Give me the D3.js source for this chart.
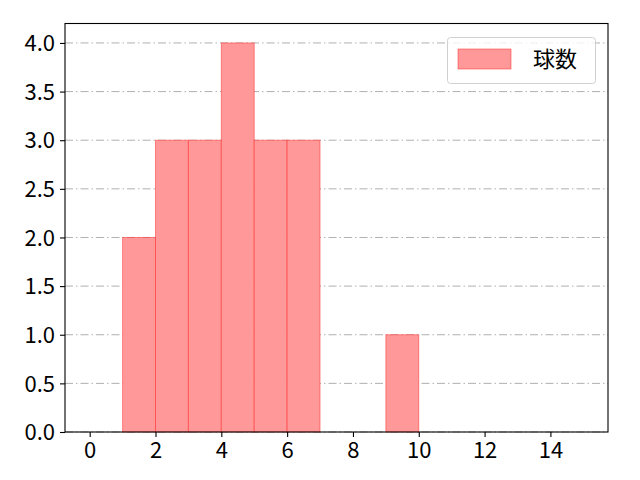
<!DOCTYPE html>
<html><head><meta charset="utf-8">
<script src="https://cdn.jsdelivr.net/npm/d3@7"></script>
<style>body{margin:0;background:#fff}svg{display:block}</style>
</head><body>
<script>
const binStarts = [1, 2, 3, 4, 5, 6, 9];
const binEnds   = [2, 3, 4, 5, 6, 7, 10];
const counts    = [2, 3, 3, 4, 3, 3, 1];
const xTicks = [0, 2, 4, 6, 8, 10, 12, 14];
const yTicks = [0, 0.5, 1, 1.5, 2, 2.5, 3, 3.5, 4];
const seriesName = "球数";

const W = 640, H = 480;
const L = 65, R = 608, T = 23.5, B = 432;
const font = "'Noto Sans CJK JP', 'DejaVu Sans', sans-serif";
const fs = 22;

const svg = d3.select("body").append("svg").attr("width", W).attr("height", H);
const x = d3.scaleLinear().domain([-0.75, 15.75]).range([L, R]);
const y = d3.scaleLinear().domain([0, 4.2]).range([B, T]);

// grid
svg.append("g").selectAll("line").data(yTicks).join("line")
  .attr("x1", L).attr("x2", R)
  .attr("y1", d => y(d)).attr("y2", d => y(d))
  .attr("stroke", "#b0b0b0").attr("stroke-width", 1)
  .attr("stroke-dasharray", "8,3,1.5,3");

// bars
const bins = counts.map((c, i) => ({x0: binStarts[i], x1: binEnds[i], c}));
svg.append("g").selectAll("rect").data(bins).join("rect")
  .attr("x", d => x(d.x0)).attr("width", d => x(d.x1) - x(d.x0))
  .attr("y", d => y(d.c)).attr("height", d => y(0) - y(d.c))
  .attr("fill", "#ff9999")
  .attr("stroke", "#ff0000").attr("stroke-opacity", 0.4).attr("stroke-width", 1);

// axes
const xAxis = svg.append("g").attr("transform", `translate(0,${B})`)
  .call(d3.axisBottom(x).tickValues(xTicks).tickFormat(d3.format("d")).tickSize(5).tickPadding(4));
const yAxis = svg.append("g").attr("transform", `translate(${L},0)`)
  .call(d3.axisLeft(y).tickValues(yTicks).tickFormat(d3.format(".1f")).tickSize(5).tickPadding(5));
[xAxis, yAxis].forEach(g => {
  g.select(".domain").remove();
  g.selectAll(".tick line").attr("stroke", "#000").attr("stroke-width", 1.1);
  g.selectAll("text").attr("font-family", font).attr("font-size", fs).attr("fill", "#000");
});
yAxis.selectAll("text").attr("dy", "0.35em");
xAxis.selectAll("text").attr("dy", "0.75em");

// frame
svg.append("rect").attr("x", L).attr("y", T).attr("width", R - L).attr("height", B - T)
  .attr("fill", "none").attr("stroke", "#000").attr("stroke-width", 1.1);

// legend
const lg = svg.append("g");
lg.append("rect").attr("x", 447.5).attr("y", 37.5).attr("width", 148).attr("height", 46)
  .attr("rx", 3).attr("fill", "#fff").attr("fill-opacity", 0.8)
  .attr("stroke", "#d0d0d0").attr("stroke-width", 1);
lg.append("rect").attr("x", 458).attr("y", 49).attr("width", 53).attr("height", 20)
  .attr("fill", "#ff9999").attr("stroke", "#ff0000").attr("stroke-opacity", 0.4);
lg.append("text").attr("x", 533).attr("y", 59).attr("dy", "0.35em")
  .attr("font-family", font).attr("font-size", fs).attr("fill", "#000").text(seriesName);
</script>
</body></html>
